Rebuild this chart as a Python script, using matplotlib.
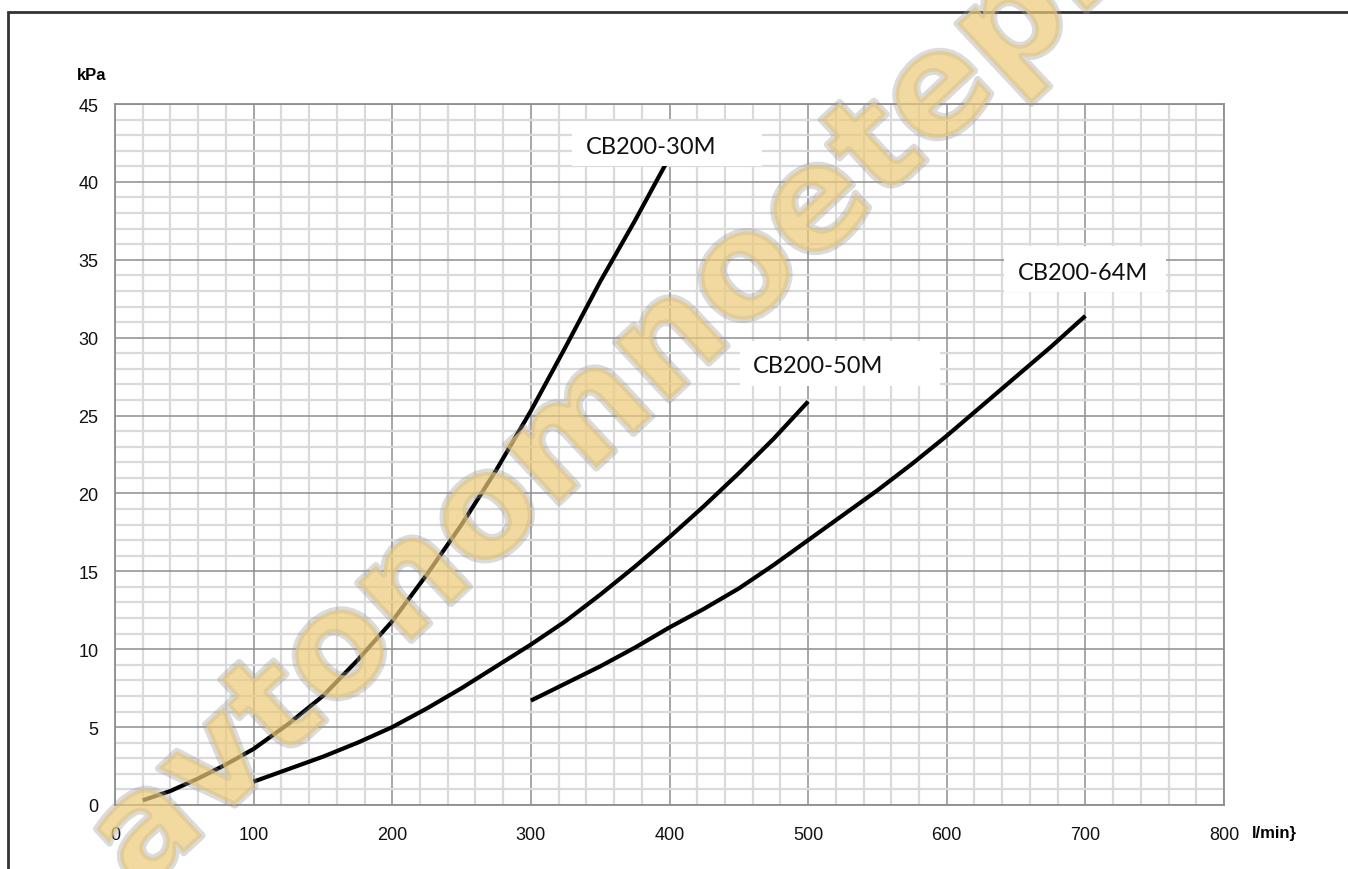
import matplotlib
matplotlib.use("Agg")
import matplotlib.pyplot as plt
from matplotlib.ticker import MultipleLocator
from matplotlib.patches import Rectangle
import matplotlib.patheffects as pe

# flow (l/min) vs pressure drop (kPa)
flow_30m = [20, 40, 60, 80, 100, 125, 150, 175, 200, 225, 250, 275, 300, 325, 350, 375, 397]
kpa_30m = [0.3, 0.9, 1.7, 2.6, 3.6, 5.2, 7.0, 9.3, 11.8, 14.8, 18.0, 21.5, 25.3, 29.4, 33.6, 37.5, 41.1]

flow_50m = [100, 125, 150, 175, 200, 225, 250, 275, 300, 325, 350, 375, 400, 425, 450, 475, 500]
kpa_50m = [1.5, 2.3, 3.1, 4.0, 5.0, 6.2, 7.5, 8.9, 10.3, 11.8, 13.5, 15.3, 17.2, 19.2, 21.3, 23.5, 25.9]

flow_64m = [300, 325, 350, 375, 400, 425, 450, 475, 500, 525, 550, 575, 600, 625, 650, 675, 700]
kpa_64m = [6.7, 7.8, 8.9, 10.1, 11.4, 12.6, 13.9, 15.4, 17.0, 18.6, 20.2, 21.9, 23.7, 25.6, 27.5, 29.4, 31.4]

labels = ["CB200-30M", "CB200-50M", "CB200-64M"]
label_xy = [(387, 42.3), (507, 28.2), (698, 34.2)]

W, H = 1348, 870
fig = plt.figure(figsize=(W / 100, H / 100), dpi=100)
ax = fig.add_axes([115 / W, 1 - 806 / H, (1224 - 115) / W, (806 - 105) / H])

ax.set_xlim(0, 800)
ax.set_ylim(0, 45)
ax.xaxis.set_major_locator(MultipleLocator(100))
ax.xaxis.set_minor_locator(MultipleLocator(20))
ax.yaxis.set_major_locator(MultipleLocator(5))
ax.yaxis.set_minor_locator(MultipleLocator(1))
ax.grid(which="minor", color="#dadada", lw=1.6, zorder=0)
ax.grid(which="major", color="#8e8e8e", lw=1.1, zorder=0)
ax.set_axisbelow(True)
for s in ax.spines.values():
    s.set_color("#8e8e8e")
    s.set_linewidth(1.3)
ax.tick_params(which="both", length=0)
ax.tick_params(axis="y", pad=12, labelsize=13)
ax.tick_params(axis="x", pad=15, labelsize=13)
for t in ax.get_xticklabels() + ax.get_yticklabels():
    t.set_fontfamily("Liberation Sans")
    t.set_color("#111111")

for fx, fy in [(flow_30m, kpa_30m), (flow_50m, kpa_50m), (flow_64m, kpa_64m)]:
    ax.plot(fx, fy, color="black", lw=3, solid_capstyle="butt", solid_joinstyle="round", zorder=3)

# white label boxes (x0, x1, y0, y1 in data units)
boxes = [(330, 467, 41.0, 43.9), (451, 595, 26.9, 29.8), (641, 758, 32.9, 35.9)]
for lab, (lx, ly), (x0, x1, y0, y1) in zip(labels, label_xy, boxes):
    ax.add_patch(Rectangle((x0, y0), x1 - x0, y1 - y0, facecolor="white",
                           edgecolor="none", zorder=4))
    ax.text(lx, ly, lab, ha="center", va="center",
            fontsize=17, family="Lato", color="#111111", zorder=5)

fig.text(77 / W, 1 - 75 / H, "kPa", fontsize=12, fontweight="bold",
         family="Liberation Sans", va="center")
fig.text(1252 / W, 1 - 834 / H, "l/min}", fontsize=12, fontweight="bold",
         family="Liberation Sans", va="center")

# page frame
fig.patches.append(Rectangle((8 / W, -0.1), 1.2, 1.1 - 13 / H, transform=fig.transFigure,
                             fill=False, edgecolor="#333333", lw=2))

# watermark
fig.text(112 / W, 1 - 866 / H, "avtonomnoeteplo.ru", fontsize=104, fontweight="bold",
         family="DejaVu Sans", color="#eccb7a", alpha=0.55, rotation=43,
         rotation_mode="anchor", ha="left", va="center", zorder=10,
         path_effects=[pe.Stroke(linewidth=5, foreground="#9a9a9a", alpha=0.35),
                       pe.Normal()])

fig.savefig("out.png", dpi=100)
